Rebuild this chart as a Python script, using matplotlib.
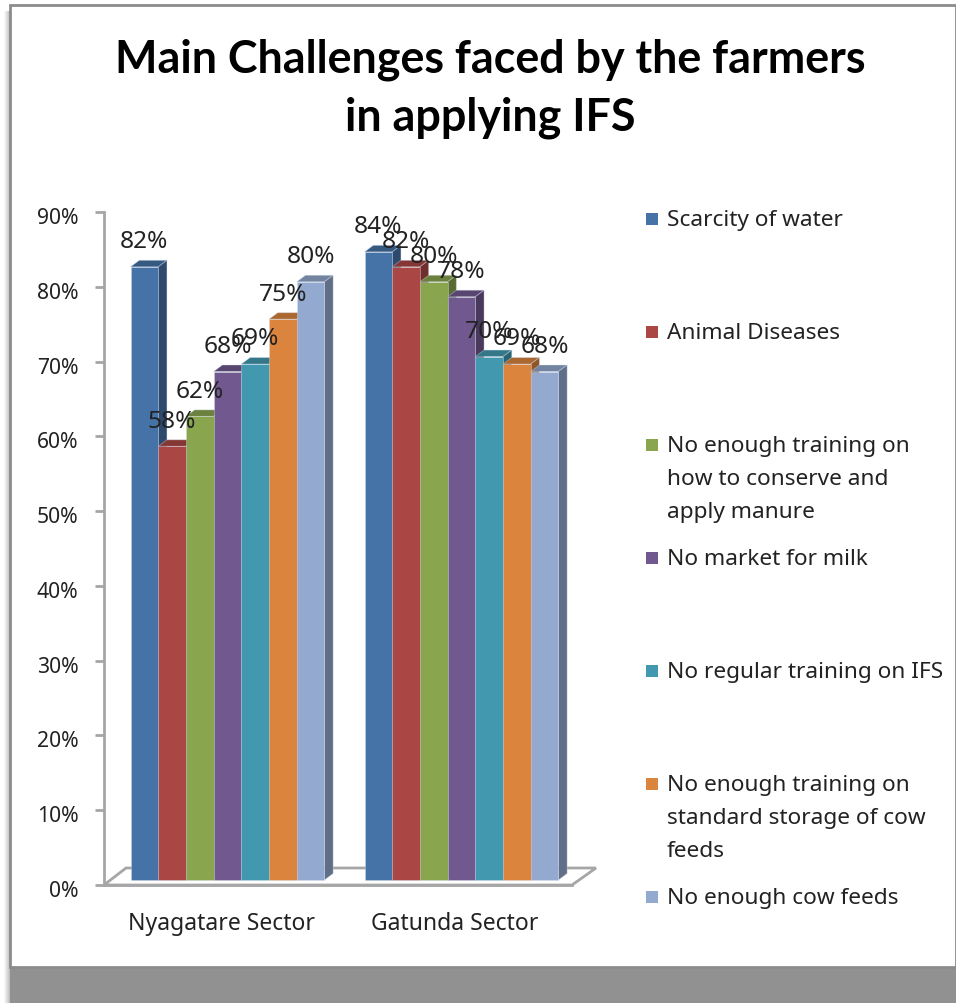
import matplotlib

matplotlib.use("Agg")
import matplotlib.pyplot as plt
from matplotlib.colors import to_rgb
from matplotlib.patches import Polygon, Rectangle
from matplotlib.ticker import PercentFormatter
from matplotlib.transforms import ScaledTranslation

TITLE = "Main Challenges faced by the farmers\nin applying IFS"
sectors = ["Nyagatare Sector", "Gatunda Sector"]
challenges = [
    "Scarcity of water",
    "Animal Diseases",
    "No enough training on\nhow to conserve and\napply manure",
    "No market for milk",
    "No regular training on IFS",
    "No enough training on\nstandard storage of cow\nfeeds",
    "No enough cow feeds",
]
nyagatare = [82, 58, 62, 68, 69, 75, 80]
gatunda = [84, 82, 80, 78, 70, 69, 68]
colors = ["#4572A7", "#AA4643", "#89A54E", "#71588F", "#4198AF", "#DB843D", "#93A9CF"]

W, H = 956, 1004
TEXT = "#222222"
GRAY = "#A6A6A6"
BODY_FONT = "Noto Sans"
BODY_SIZE = 16.3
LABEL_SIZE = 17.6

plt.rcParams["font.family"] = BODY_FONT

fig = plt.figure(figsize=(W / 100, H / 100), dpi=100)


def px_rect(x, y, w, h, **kw):
    # pixel box from the top left of the image
    fig.patches.append(
        Rectangle((x / W, 1 - (y + h) / H), w / W, h / H, transform=fig.transFigure, **kw)
    )


def shade(color, factor):
    return tuple(c * factor for c in to_rgb(color))


# slide frame and its shadow
for i in range(6):
    px_rect(4 + i, 12, 1, 992, color="#909090", alpha=0.06 + 0.1 * i, lw=0)
px_rect(10, 968, 946, 36, color="#919191", lw=0)
px_rect(10, 6, 946, 962, facecolor="white", edgecolor="#8C8C8C", lw=2)

ax = fig.add_axes([104 / W, 1 - 886 / H, 468 / W, 673 / H], facecolor="none", zorder=2)
ax.set_xlim(0, 2)
ax.set_ylim(0, 90)
for side in ["top", "right"]:
    ax.spines[side].set_visible(False)
for side in ["left", "bottom"]:
    ax.spines[side].set_color(GRAY)
    ax.spines[side].set_linewidth(2)
ax.yaxis.set_major_formatter(PercentFormatter(decimals=0))
ax.set_yticks(range(0, 100, 10))
ax.tick_params(axis="y", length=6.5, width=2, color=GRAY, pad=12, labelsize=15.2, labelcolor=TEXT)
ax.set_xticks([0.5, 1.5], sectors)
ax.tick_params(axis="x", length=0, pad=19, labelsize=16.5, labelcolor=TEXT)
# tick labels sit a little under their ticks in the original
for label in ax.get_yticklabels():
    label.set_transform(label.get_transform() + ScaledTranslation(0, -3 / 100, fig.dpi_scale_trans))

# floor of the 3d box
x0, y0 = ax.transData.transform((0, 0))
x1, _ = ax.transData.transform((2, 0))
ax.add_patch(
    Polygon(
        [(x0, y0), (x0 + 22, y0 + 17), (x1 + 24, y0 + 17), (x1, y0)],
        closed=True,
        transform=None,
        facecolor="white",
        edgecolor=GRAY,
        lw=2,
        clip_on=False,
    )
)

BAR_W = 27.7 / 234
SHIFT_X, SHIFT_Y = 6.5, 5
DEPTH_X, DEPTH_Y = 8.7, 6.5


def draw_bar(x_center, value, color):
    left, bottom = ax.transData.transform((x_center - BAR_W / 2, 0))
    right, top = ax.transData.transform((x_center + BAR_W / 2, value))
    left, right = left + SHIFT_X, right + SHIFT_X
    bottom, top = bottom + SHIFT_Y, top + SHIFT_Y
    faces = [
        ([(left, top), (left + DEPTH_X, top + DEPTH_Y), (right + DEPTH_X, top + DEPTH_Y), (right, top)], shade(color, 0.78)),
        ([(right, bottom), (right, top), (right + DEPTH_X, top + DEPTH_Y), (right + DEPTH_X, bottom + DEPTH_Y)], shade(color, 0.65)),
        ([(left, bottom), (left, top), (right, top), (right, bottom)], color),
    ]
    for pts, face in faces:
        ax.add_patch(Polygon(pts, closed=True, transform=None, facecolor=face, edgecolor=(0.85, 0.89, 0.95, 0.35), lw=0.7, clip_on=False))
    ax.annotate(
        f"{value}%",
        xy=((left + right) / 2, top),
        xycoords="figure pixels",
        xytext=(0, 18.4),
        textcoords="offset points",
        ha="center",
        va="center",
        fontsize=LABEL_SIZE,
        color=TEXT,
        zorder=10,
    )


for center, values in zip([0.5, 1.5], [nyagatare, gatunda]):
    for i, value in enumerate(values):
        draw_bar(center + (i - 3) * BAR_W, value, colors[i])

# legend, one row every 113 px
for i, (label, color) in enumerate(zip(challenges, colors)):
    row = 219 + i * 113
    px_rect(646, row - 5, 12, 12, color=color, lw=0)
    fig.text(
        667 / W,
        1 - (row - 9) / H,
        label,
        ha="left",
        va="top",
        fontsize=BODY_SIZE,
        color=TEXT,
        linespacing=1.76,
    )

fig.text(
    490 / W,
    1 - 89 / H,
    TITLE,
    ha="center",
    va="center",
    fontsize=32.3,
    fontweight="bold",
    family="Lato",
    color="black",
    linespacing=1.46,
)

fig.savefig("out.png", dpi=100)
